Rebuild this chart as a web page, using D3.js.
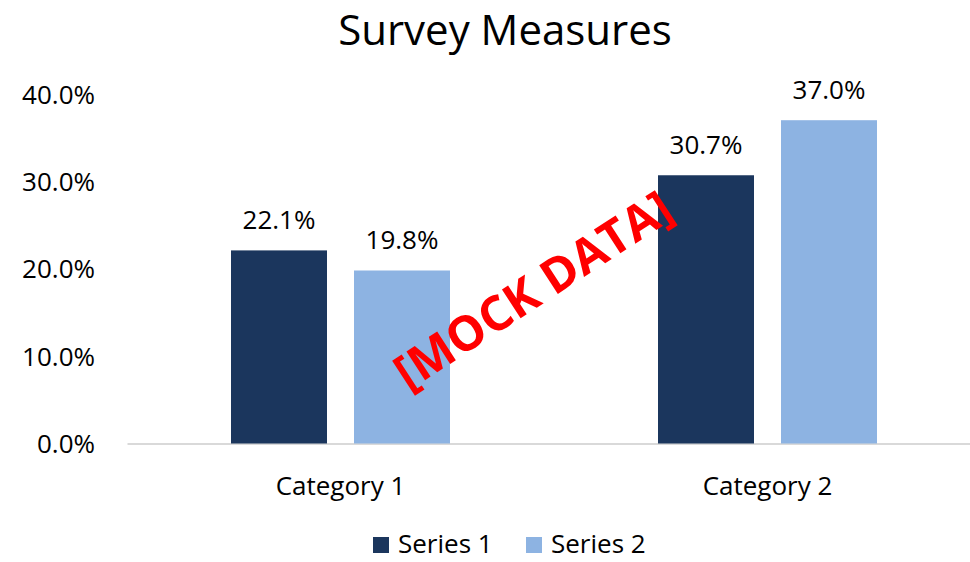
<!DOCTYPE html>
<html>
<head>
<meta charset="utf-8">
<script src="https://cdn.jsdelivr.net/npm/d3@7"></script>
<style>
  body { margin: 0; background: #fff; }
  text { font-family: "Open Sans", Lato, sans-serif; fill: #000; }
</style>
</head>
<body>
<div id="chart"></div>
<script>
// chart data
const categories = ["Category 1", "Category 2"];
const seriesNames = ["Series 1", "Series 2"];
const series1 = [0.221, 0.307];
const series2 = [0.198, 0.370];
const yTicks = [0, 0.1, 0.2, 0.3, 0.4];

const colors = ["#1b365d", "#8db3e2"];
const width = 970, height = 562;
const margin = {top: 94, right: -11, bottom: 118.5, left: 127};

const svg = d3.select("#chart").append("svg")
  .attr("width", width)
  .attr("height", height);

//scales
const x = d3.scaleBand()
  .domain(categories)
  .range([margin.left, width - margin.right]);

//two bars of 96px with a 27px gap
const xInner = d3.scaleBand()
  .domain(seriesNames)
  .range([0, 96 * 2 + 27])
  .paddingInner(27 / 123);

const y = d3.scaleLinear()
  .domain([0, 0.4])
  .range([height - margin.bottom, margin.top]);

const fmt = d3.format(".1%");

//title
svg.append("text")
  .attr("x", 505)
  .attr("y", 45)
  .attr("text-anchor", "middle")
  .style("font-size", "42px")
  .text("Survey Measures");

//y axis labels
const yAxis = svg.append("g")
  .attr("transform", `translate(${margin.left}, 0)`)
  .call(d3.axisLeft(y).tickValues(yTicks).tickFormat(fmt).tickSize(0).tickPadding(32));
yAxis.select(".domain").remove();
yAxis.selectAll("text")
  .style("font-size", "26px")
  .attr("font-family", null)
  .attr("dy", "0.35em");

//x axis
const xAxis = svg.append("g")
  .attr("transform", `translate(0, ${y(0)})`)
  .call(d3.axisBottom(x).tickSize(0).tickPadding(33));
xAxis.select(".domain")
  .attr("stroke", "#d9d9d9")
  .attr("stroke-width", 2);
xAxis.selectAll("text")
  .style("font-size", "26px")
  .attr("font-family", null);

//bars
const rows = categories.map((c, i) => ({category: c, values: [series1[i], series2[i]]}));
const groupOffset = (x.bandwidth() - xInner.range()[1]) / 2;

const groups = svg.selectAll(".group")
  .data(rows)
  .enter()
  .append("g")
    .attr("class", "group")
    .attr("transform", d => `translate(${x(d.category) + groupOffset}, 0)`);

groups.selectAll("rect")
  .data(d => d.values.map((v, j) => ({name: seriesNames[j], value: v, j: j})))
  .enter()
  .append("rect")
    .attr("x", d => xInner(d.name))
    .attr("y", d => y(d.value))
    .attr("width", xInner.bandwidth())
    .attr("height", d => y(0) - y(d.value))
    .attr("fill", d => colors[d.j]);

//data labels
groups.selectAll(".label")
  .data(d => d.values.map((v, j) => ({name: seriesNames[j], value: v})))
  .enter()
  .append("text")
    .attr("class", "label")
    .attr("x", d => xInner(d.name) + xInner.bandwidth() / 2)
    .attr("y", d => y(d.value) - 21)
    .attr("text-anchor", "middle")
    .style("font-size", "26px")
    .text(d => fmt(d.value));

//legend (kept just inside the bottom edge)
const legend = svg.append("g").attr("transform", "translate(373, 553)");
const legendX = [0, 153];
seriesNames.forEach((name, i) => {
  legend.append("rect")
    .attr("x", legendX[i])
    .attr("y", -16)
    .attr("width", 16)
    .attr("height", 16)
    .attr("fill", colors[i]);
  legend.append("text")
    .attr("x", legendX[i] + 25)
    .attr("y", 0)
    .style("font-size", "26px")
    .text(name);
});

//watermark
svg.append("text")
  .attr("transform", "translate(533, 290) rotate(-33)")
  .attr("text-anchor", "middle")
  .attr("dy", "0.35em")
  .style("font-size", "48px")
  .style("font-weight", "bold")
  .style("fill", "#ff0000")
  .text("[MOCK DATA]");
</script>
</body>
</html>
